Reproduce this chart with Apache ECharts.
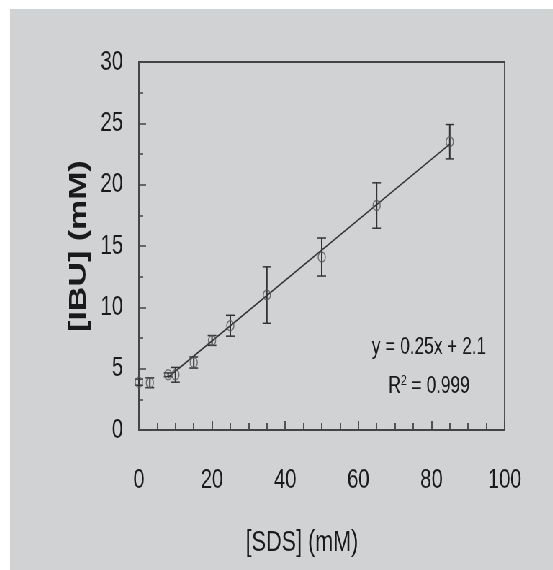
<!DOCTYPE html>
<html>
<head>
<meta charset="utf-8">
<script src="https://cdn.jsdelivr.net/npm/echarts@6/dist/echarts.min.js"></script>
<style>
html,body{margin:0;padding:0;background:#ffffff;overflow:hidden;}
#c{position:absolute;left:10px;top:9px;width:754px;height:561px;background:#d1d2d4;transform:scaleX(0.72);transform-origin:0 0;}
</style>
</head>
<body>
<div id="c"></div>
<script>
// Data
var sds = [0, 3, 8, 10, 15, 20, 25, 35, 50, 65, 85];
var ibu = [3.9, 3.85, 4.5, 4.5, 5.5, 7.3, 8.5, 11.0, 14.1, 18.3, 23.5];
var err = [0.25, 0.4, 0.15, 0.6, 0.45, 0.4, 0.85, 2.3, 1.55, 1.85, 1.4];
var fitX = [8, 85];
var fitY = [4.3, 23.3];
var xTicks = [0, 20, 40, 60, 80, 100];
var yTicks = [0, 5, 10, 15, 20, 25, 30];
var eqText = 'y = 0.25x + 2.1';
var r2Value = '0.999';

var FONT = '"Liberation Sans", Arial, sans-serif';
var pts = sds.map(function (x, i) { return [x, ibu[i]]; });
var bars = sds.map(function (x, i) { return [x, ibu[i] - err[i], ibu[i] + err[i]]; });
var fit = fitX.map(function (x, i) { return [x, fitY[i]]; });

var chart = echarts.init(document.getElementById('c'), null, {renderer: 'canvas'});
chart.setOption({
  animation: false,
  backgroundColor: '#d1d2d4',
  grid: {left: 179, top: 53, right: 67, bottom: 140, show: true, borderColor: '#444', borderWidth: 1.8, backgroundColor: 'transparent'},
  xAxis: {
    type: 'value', min: 0, max: 100, interval: 20,
    axisLine: {show: true, onZero: false, lineStyle: {color: '#444', width: 1.5}},
    axisTick: {show: true, inside: true, length: 9, lineStyle: {color: '#444', width: 1.8}},
    minorTick: {show: true, splitNumber: 4, length: 7, lineStyle: {color: '#444', width: 1.8}},
    splitLine: {show: false},
    axisLabel: {margin: 36, fontFamily: FONT, fontSize: 28, color: '#1a1a1a',
      formatter: function (v) { return xTicks.indexOf(v) >= 0 ? String(v) : ''; }},
    name: '[SDS] (mM)', nameLocation: 'middle', nameGap: 98,
    nameTextStyle: {fontFamily: FONT, fontSize: 30, color: '#1a1a1a', padding: [0, 55, 0, 0]}
  },
  yAxis: {
    type: 'value', min: 0, max: 30, interval: 5,
    axisLine: {show: true, onZero: false, lineStyle: {color: '#444', width: 1.8}},
    axisTick: {show: true, inside: true, length: 10, lineStyle: {color: '#444', width: 1.5}},
    minorTick: {show: true, splitNumber: 2, length: 6, lineStyle: {color: '#444', width: 1.5}},
    splitLine: {show: false},
    axisLabel: {margin: 22, fontFamily: FONT, fontSize: 28, color: '#1a1a1a',
      formatter: function (v) { return yTicks.indexOf(v) >= 0 ? String(v) : ''; }},
    name: '[IBU] (mM)', nameLocation: 'middle', nameGap: 66,
    nameTextStyle: {fontFamily: FONT, fontSize: 34, fontWeight: 'bold', color: '#1a1a1a'}
  },
  series: [
    {
      type: 'line', data: fit, symbol: 'none', z: 3,
      lineStyle: {color: '#333', width: 1.6}
    },
    {
      type: 'custom', data: bars, z: 4,
      renderItem: function (params, api) {
        var x = api.value(0);
        var lo = api.coord([x, api.value(1)]);
        var hi = api.coord([x, api.value(2)]);
        var hw = 6;
        return {type: 'group', children: [
          {type: 'line', shape: {x1: lo[0], y1: lo[1], x2: hi[0], y2: hi[1]}, style: {stroke: '#333', lineWidth: 2}},
          {type: 'line', shape: {x1: lo[0] - hw, y1: lo[1], x2: lo[0] + hw, y2: lo[1]}, style: {stroke: '#333', lineWidth: 1.5}},
          {type: 'line', shape: {x1: hi[0] - hw, y1: hi[1], x2: hi[0] + hw, y2: hi[1]}, style: {stroke: '#333', lineWidth: 1.5}}
        ]};
      }
    },
    {
      type: 'scatter', data: pts, z: 5,
      symbol: 'circle', symbolSize: 10,
      itemStyle: {color: 'rgba(0,0,0,0)', borderColor: '#555', borderWidth: 1.4}
    }
  ],
  graphic: [
    {type: 'text', x: 582, y: 338, style: {text: eqText, font: '24px ' + FONT, fill: '#1a1a1a', align: 'center', verticalAlign: 'middle'}},
    {type: 'text', x: 582, y: 377, style: {
      text: '{a|R}{s|2}{a| = ' + r2Value + '}',
      align: 'center', verticalAlign: 'middle',
      rich: {
        a: {fontFamily: FONT, fontSize: 24, fill: '#1a1a1a', verticalAlign: 'bottom'},
        s: {fontFamily: FONT, fontSize: 15, fill: '#1a1a1a', verticalAlign: 'top', padding: [0, 0, 10, 0]}
      }
    }}
  ]
});
</script>
</body>
</html>
